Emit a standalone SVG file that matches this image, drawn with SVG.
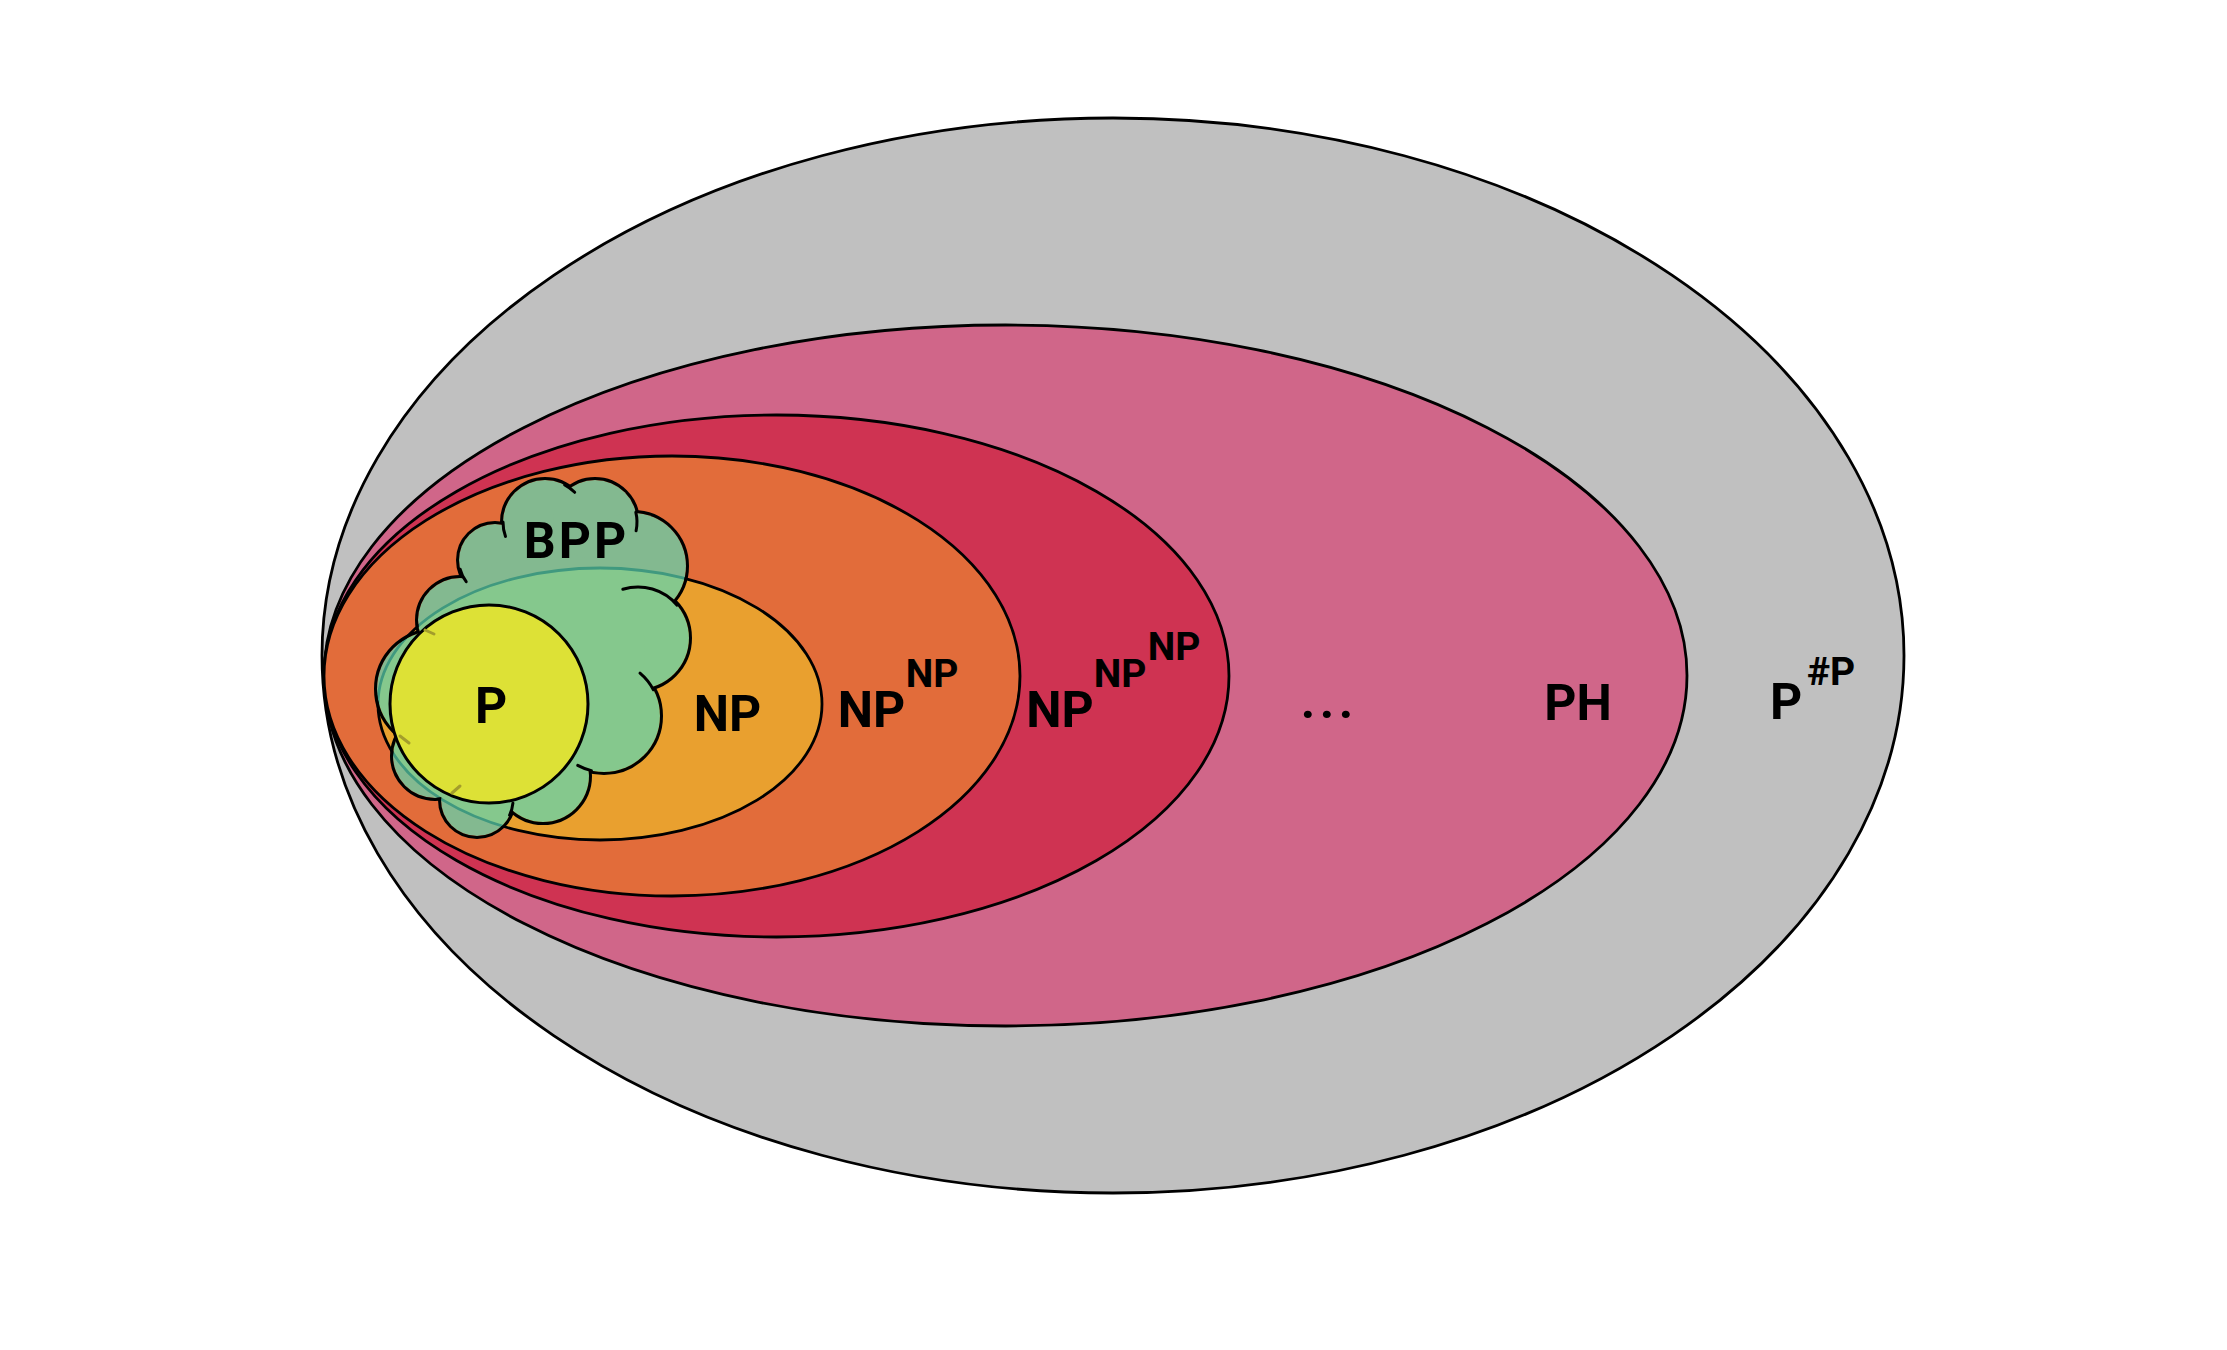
<svg xmlns="http://www.w3.org/2000/svg" width="2227" height="1350" viewBox="0 0 2227 1350">
<style>
.el{stroke:#000;stroke-width:2.8}
.lbl{font-family:Roboto,"Liberation Sans",sans-serif;font-weight:700;fill:#000;text-anchor:middle}
.big{font-size:50px}
.sup{font-size:39px}
.tick{fill:none;stroke:#000;stroke-width:3;stroke-linecap:round}
.ptick{fill:none;stroke:#a39d2c;stroke-width:3;stroke-linecap:round}
</style>
<defs>
<g id="cloudShape">
<circle cx="545" cy="522" r="42"/>
<circle cx="595" cy="522" r="42"/>
<circle cx="633" cy="566" r="53"/>
<circle cx="638" cy="638" r="51"/>
<circle cx="604" cy="716" r="56"/>
<circle cx="543" cy="776" r="46"/>
<circle cx="477" cy="800" r="36"/>
<circle cx="435" cy="756" r="42"/>
<circle cx="435" cy="689" r="58"/>
<circle cx="460" cy="620" r="42"/>
<circle cx="495" cy="560" r="36"/>
</g>
<mask id="cloudOut" maskUnits="userSpaceOnUse" x="0" y="0" width="2227" height="1350">
<rect x="0" y="0" width="2227" height="1350" fill="#fff"/>
<use href="#cloudShape" fill="#000"/>
<circle cx="545" cy="650" r="100" fill="#000"/>
</mask>
</defs>
<rect width="2227" height="1350" fill="#fff"/>
<g id="node-psharp"><ellipse class="el" cx="1113" cy="655.5" rx="791" ry="537.5" fill="#c0c0c0"/></g>
<g id="node-ph"><ellipse class="el" cx="1005.5" cy="675.5" rx="681.5" ry="350.5" fill="#d06689"/></g>
<g id="node-npnpnp"><ellipse class="el" cx="776.5" cy="676" rx="452.5" ry="261" fill="#cf3352"/></g>
<g id="node-npnp"><ellipse class="el" cx="672" cy="676" rx="348" ry="220" fill="#e26c3a"/></g>
<g id="node-np"><ellipse class="el" cx="600" cy="704" rx="222" ry="136" fill="#e9a02f"/></g>
<g id="node-bpp">
<g opacity="0.7" fill="#5cdab5">
<use href="#cloudShape"/>
<circle cx="545" cy="650" r="100"/>
</g>
<g mask="url(#cloudOut)" fill="none" stroke="#000" stroke-width="6">
<use href="#cloudShape"/>
</g>
<path class="tick" d="M503,522 A42,42 0 0 0 505.5,536.4"/>
<path class="tick" d="M564.7,484.9 A42,42 0 0 1 574.7,492.3"/>
<path class="tick" d="M635.8,512.1 A42,42 0 0 1 636.1,530.7"/>
<path class="tick" d="M460.2,569.3 A36,36 0 0 0 466.2,581.7"/>
<path class="tick" d="M622.8,589.3 A51,51 0 0 1 677.1,605.2"/>
<path class="tick" d="M640,673.1 A56,56 0 0 1 653.4,689.7"/>
<path class="tick" d="M591.4,770.6 A56,56 0 0 1 577.7,765.4"/>
<path class="tick" d="M509.6,815.2 A36,36 0 0 0 512.9,803.1"/>
</g>
<g id="node-p">
<circle cx="489" cy="704" r="99" fill="#dde136" stroke="#000" stroke-width="3"/>
<path class="ptick" d="M425,630 L434,634"/>
<path class="ptick" d="M400,736 L409,743"/>
<path class="ptick" d="M452,793 L460,786"/>
</g>
<g id="labels">
<text class="lbl big" x="576.5" y="558" letter-spacing="3">BPP</text>
<text class="lbl big" x="491" y="723">P</text>
<text class="lbl big" x="727.5" y="731">NP</text>
<text class="lbl big" x="871.5" y="727">NP</text>
<text class="lbl sup" x="932" y="687">NP</text>
<text class="lbl big" x="1060" y="727">NP</text>
<text class="lbl sup" x="1120" y="687">NP</text>
<text class="lbl sup" x="1174" y="660">NP</text>
<text class="lbl big" x="1308 1327 1346" y="718">...</text>
<text class="lbl big" x="1578" y="720">PH</text>
<text class="lbl big" x="1786" y="719">P</text>
<text class="lbl sup" x="1831" y="685">#P</text>
</g>
<g id="connectors"/>
</svg>
